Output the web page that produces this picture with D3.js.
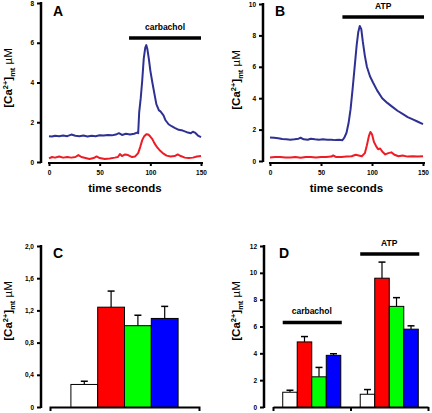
<!DOCTYPE html>
<html><head><meta charset="utf-8">
<script src="https://cdn.jsdelivr.net/npm/d3@7"></script>
<style>
html,body{margin:0;padding:0;background:#fff;}
svg{display:block;font-family:"Liberation Sans",Arial,sans-serif;}
</style></head>
<body>
<svg id="c" width="432" height="413"></svg>
<script>
// ---- Data ----
// Panel A (carbachol) traces: time (s) and [Ca2+]mt (µM)
const aBlueT = [0,3,6,10,14,18,22,26,30,34,38,42,46,50,54,58,62,66,69,72,76,80,84,87,88,89,90.5,92,93.5,95,96,97,98.5,100,102,104.5,106,108.5,110,113,115,118,121,124,128,132,136,140,142,144,147,150];
const aBlueV = [1.30,1.28,1.32,1.30,1.33,1.30,1.38,1.32,1.30,1.33,1.28,1.32,1.30,1.35,1.33,1.36,1.34,1.38,1.45,1.36,1.42,1.38,1.42,1.48,1.45,2.5,3.2,4.1,5.2,5.75,5.88,5.7,5.2,4.6,4.0,3.3,2.9,2.6,2.55,2.35,2.1,1.9,1.8,1.72,1.62,1.58,1.5,1.45,1.52,1.48,1.33,1.25];
const aRedT = [0,3,6,10,14,18,22,26,29,32,36,40,44,47,50,55,60,65,68,70,72,75,78,82,85,88,90,92,94,96,98,100,102,104,107,110,113,116,120,124,127,130,134,138,142,146,150];
const aRedV = [0.18,0.25,0.22,0.28,0.22,0.25,0.22,0.25,0.35,0.25,0.2,0.15,0.2,0.28,0.2,0.15,0.18,0.22,0.25,0.4,0.3,0.38,0.35,0.25,0.28,0.45,0.75,1.1,1.3,1.4,1.38,1.28,1.15,0.95,0.72,0.55,0.42,0.32,0.28,0.3,0.38,0.3,0.22,0.2,0.22,0.28,0.3];
// Panel B (ATP) traces
const bBlueT = [0,4,8,12,16,20,24,28,30,33,37,40,44,48,52,56,60,64,68,71,73,75,77,79,81,83,85,86.5,88,89.5,91,93,95,98,101,105,110,115,120,125,130,135,140,145,150];
const bBlueV = [1.5,1.48,1.45,1.4,1.38,1.36,1.38,1.42,1.48,1.38,1.35,1.42,1.38,1.35,1.38,1.35,1.36,1.33,1.35,1.32,1.5,1.8,2.4,3.3,4.6,6.0,7.4,8.2,8.6,8.4,7.6,6.7,6.0,5.4,5.0,4.5,4.0,3.7,3.45,3.2,3.0,2.8,2.65,2.5,2.35];
const bRedT = [0,5,10,15,20,25,30,35,40,45,50,55,60,62,65,70,75,80,84,87,90,93,95,97,98.5,100,102,104,106,108,110,113,116,119,122,126,130,135,140,145,150];
const bRedV = [0.22,0.25,0.25,0.22,0.22,0.25,0.2,0.25,0.25,0.22,0.25,0.25,0.28,0.35,0.25,0.25,0.28,0.3,0.4,0.35,0.3,0.5,1.0,1.6,1.85,1.7,1.2,0.95,0.75,0.8,0.6,0.42,0.5,0.55,0.4,0.3,0.35,0.28,0.3,0.28,0.3];
const timeTicks = [0,50,100,150];
const aTicksY = [0,2,4,6,8];
const bTicksY = [0,2,4,6,8,10];
const aStim = {label:"carbachol", start:79, end:150};
const bStim = {label:"ATP", start:71, end:151};

// Panel C bars
const cSeries = ["control","red","green","blue"];
const cValues = [0.28,1.24,1.01,1.10];
const cErrors = [0.04,0.20,0.13,0.15];
const cTicksY = [0,0.4,0.8,1.2,1.6,2.0];
// Panel D grouped bars
const dGroups = ["carbachol","ATP"];
const dSeries = ["control","red","green","blue"];
const dCarbValues = [1.1,4.85,2.25,3.85];
const dCarbErrors = [0.15,0.4,0.7,0.12];
const dAtpValues = [0.95,9.6,7.5,5.8];
const dAtpErrors = [0.35,1.2,0.65,0.25];
const dTicksY = [0,2,4,6,8,10,12];

const barColors = {control:"#ffffff", red:"#ff0000", green:"#00ff00", blue:"#0000ff"};
const lineBlue = "#2e3192", lineRed = "#ee1c24";

const svg = d3.select("#c");
const FS_TICK = 6.5;

function styleAxis(g, w){
  g.select(".domain").attr("stroke","#000").attr("stroke-width",w);
  g.selectAll(".tick line").attr("stroke","#000").attr("stroke-width",2);
  g.selectAll(".tick text").attr("font-size",FS_TICK).attr("font-weight","bold").attr("font-family","Liberation Sans, Arial, sans-serif").attr("fill","#000");
}
function yLabel(x,y){
  const t = svg.append("text").attr("transform",`translate(${x},${y}) rotate(-90)`)
    .attr("text-anchor","middle").attr("font-size",11.5).attr("font-weight","bold").attr("fill","#000");
  t.append("tspan").text("[Ca");
  t.append("tspan").attr("font-size",7.5).attr("dy",-4.5).text("2+");
  t.append("tspan").attr("dy",4.5).text("]");
  t.append("tspan").attr("font-size",7.5).attr("dy",2.5).text("mt");
  t.append("tspan").attr("dy",-2.5).attr("font-weight","normal").text(" \u00b5M");
}
function panelLetter(x,y,l){
  svg.append("text").attr("x",x).attr("y",y).attr("font-size",14).attr("font-weight","bold").text(l);
}

function tracePanel(o){
  const x = d3.scaleLinear().domain([0,150]).range(o.xr);
  const y = d3.scaleLinear().domain([0,o.ymax]).range(o.yr);
  const gx = svg.append("g").attr("transform",`translate(0,${o.axisY})`)
    .call(d3.axisBottom(x).tickValues(timeTicks).tickSize(3).tickSizeOuter(0).tickPadding(4));
  gx.select(".domain").attr("d",`M${o.xr[0]-1},0H${o.xr[1]+2}`);
  styleAxis(gx,2);
  const gy = svg.append("g").attr("transform",`translate(${o.axisX},0)`)
    .call(d3.axisLeft(y).tickValues(o.yticks).tickSize(4).tickSizeOuter(0).tickPadding(3));
  gy.select(".domain").attr("d",`M0,${o.yr[0]+1}V${o.yr[1]-1}`);
  styleAxis(gy,2.5);
  const line = d3.line().x(d=>x(d[0])).y(d=>y(d[1]));
  o.series.forEach(s=>{
    svg.append("path").datum(d3.zip(s.t,s.v)).attr("d",line)
      .attr("fill","none").attr("stroke",s.c).attr("stroke-width",2).attr("stroke-linejoin","round");
  });
  svg.append("line").attr("x1",x(o.stim.start)).attr("x2",x(o.stim.end))
    .attr("y1",o.stimY).attr("y2",o.stimY).attr("stroke","#000").attr("stroke-width",3.5);
  svg.append("text").attr("x",(x(o.stim.start)+x(o.stim.end))/2).attr("y",o.stimY-8)
    .attr("text-anchor","middle").attr("font-size",8.5).attr("font-weight","bold").text(o.stim.label);
  svg.append("text").attr("x",(o.xr[0]+o.xr[1])/2).attr("y",o.axisY+29)
    .attr("text-anchor","middle").attr("font-size",11.5).attr("font-weight","bold").text("time seconds");
}

tracePanel({xr:[49,201], yr:[162,3], ymax:8, axisX:41, axisY:163, yticks:aTicksY, stim:aStim, stimY:38,
  series:[{t:aBlueT,v:aBlueV,c:lineBlue},{t:aRedT,v:aRedV,c:lineRed}]});
tracePanel({xr:[270,423], yr:[161,4], ymax:10, axisX:263, axisY:163, yticks:bTicksY, stim:bStim, stimY:17,
  series:[{t:bBlueT,v:bBlueV,c:lineBlue},{t:bRedT,v:bRedV,c:lineRed}]});
panelLetter(53,16,"A");
panelLetter(275,16,"B");
yLabel(12,78);
yLabel(240,80);

// ---- Panel C ----
(function(){
  const y = d3.scaleLinear().domain([0,2]).range([407,246]);
  const x0 = d3.scaleBand().domain(["all"]).range([50,199]);
  const x1 = d3.scaleBand().domain(cSeries).range([0,x0.bandwidth()]).paddingInner(0).paddingOuter(0.78);
  const gy = svg.append("g").attr("transform","translate(41,0)")
    .call(d3.axisLeft(y).tickValues(cTicksY).tickSize(4).tickSizeOuter(0).tickPadding(3)
      .tickFormat(d=>d===0?"0":d3.format(".1f")(d).replace(".",",")));
  gy.select(".domain").attr("d","M0,408V245");
  styleAxis(gy,2.5);
  const gx = svg.append("g").attr("transform","translate(0,407)")
    .call(d3.axisBottom(x0).tickValues([]).tickSizeOuter(4));
  styleAxis(gx,2);
  const g = svg.append("g").attr("transform",`translate(${x0("all")},0)`);
  cSeries.forEach((s,i)=>{
    const bx = x1(s), bw = x1.bandwidth(), cx = bx+bw/2;
    g.append("line").attr("x1",cx).attr("x2",cx).attr("y1",y(cValues[i])).attr("y2",y(cValues[i]+cErrors[i])).attr("stroke","#000").attr("stroke-width",1.2);
    g.append("line").attr("x1",cx-3.5).attr("x2",cx+3.5).attr("y1",y(cValues[i]+cErrors[i])).attr("y2",y(cValues[i]+cErrors[i])).attr("stroke","#000").attr("stroke-width",1.5);
    g.append("rect").attr("x",bx).attr("width",bw).attr("y",y(cValues[i])).attr("height",y(0)-y(cValues[i]))
      .attr("fill",barColors[s]).attr("stroke","#000").attr("stroke-width",1);
  });
  panelLetter(53,258,"C");
  yLabel(12,311);
})();

// ---- Panel D ----
(function(){
  const y = d3.scaleLinear().domain([0,12]).range([407,246]);
  const x0 = d3.scaleBand().domain(dGroups).range([273,428]);
  const x1 = d3.scaleBand().domain(dSeries).range([0,x0.bandwidth()]).paddingInner(0).paddingOuter(0.67);
  const gy = svg.append("g").attr("transform","translate(264,0)")
    .call(d3.axisLeft(y).tickValues(dTicksY).tickSize(4).tickSizeOuter(0).tickPadding(3));
  gy.select(".domain").attr("d","M0,408V245");
  styleAxis(gy,2.5);
  const xs = d3.scaleLinear().domain([0,dGroups.length]).range([273,428]);
  const gx = svg.append("g").attr("transform","translate(0,407)")
    .call(d3.axisBottom(xs).tickValues([0,1,2]).tickFormat("").tickSize(4).tickSizeOuter(0));
  styleAxis(gx,2);
  const groupData = [{v:dCarbValues,e:dCarbErrors},{v:dAtpValues,e:dAtpErrors}];
  dGroups.forEach((gname,gi)=>{
    const g = svg.append("g").attr("transform",`translate(${x0(gname)},0)`);
    dSeries.forEach((s,i)=>{
      const v = groupData[gi].v[i], e = groupData[gi].e[i];
      const bx = x1(s), bw = x1.bandwidth(), cx = bx+bw/2;
      g.append("line").attr("x1",cx).attr("x2",cx).attr("y1",y(v)).attr("y2",y(v+e)).attr("stroke","#000").attr("stroke-width",1.2);
      g.append("line").attr("x1",cx-3.5).attr("x2",cx+3.5).attr("y1",y(v+e)).attr("y2",y(v+e)).attr("stroke","#000").attr("stroke-width",1.5);
      g.append("rect").attr("x",bx).attr("width",bw).attr("y",y(v)).attr("height",y(0)-y(v))
        .attr("fill",barColors[s]).attr("stroke","#000").attr("stroke-width",1);
    });
  });
  // stimulus bars
  const stim = [{g:"carbachol",yv:6.3},{g:"ATP",yv:11.4}];
  stim.forEach(st=>{
    const xa = x0(st.g)+x1(dSeries[0]), xb = x0(st.g)+x1(dSeries[dSeries.length-1])+x1.bandwidth();
    svg.append("line").attr("x1",xa).attr("x2",xb+1).attr("y1",y(st.yv)).attr("y2",y(st.yv)).attr("stroke","#000").attr("stroke-width",3.5);
    svg.append("text").attr("x",(xa+xb)/2).attr("y",y(st.yv)-8).attr("text-anchor","middle")
      .attr("font-size",8.5).attr("font-weight","bold").text(st.g);
  });
  panelLetter(279,258,"D");
  yLabel(240,311);
})();
</script>
</body></html>
